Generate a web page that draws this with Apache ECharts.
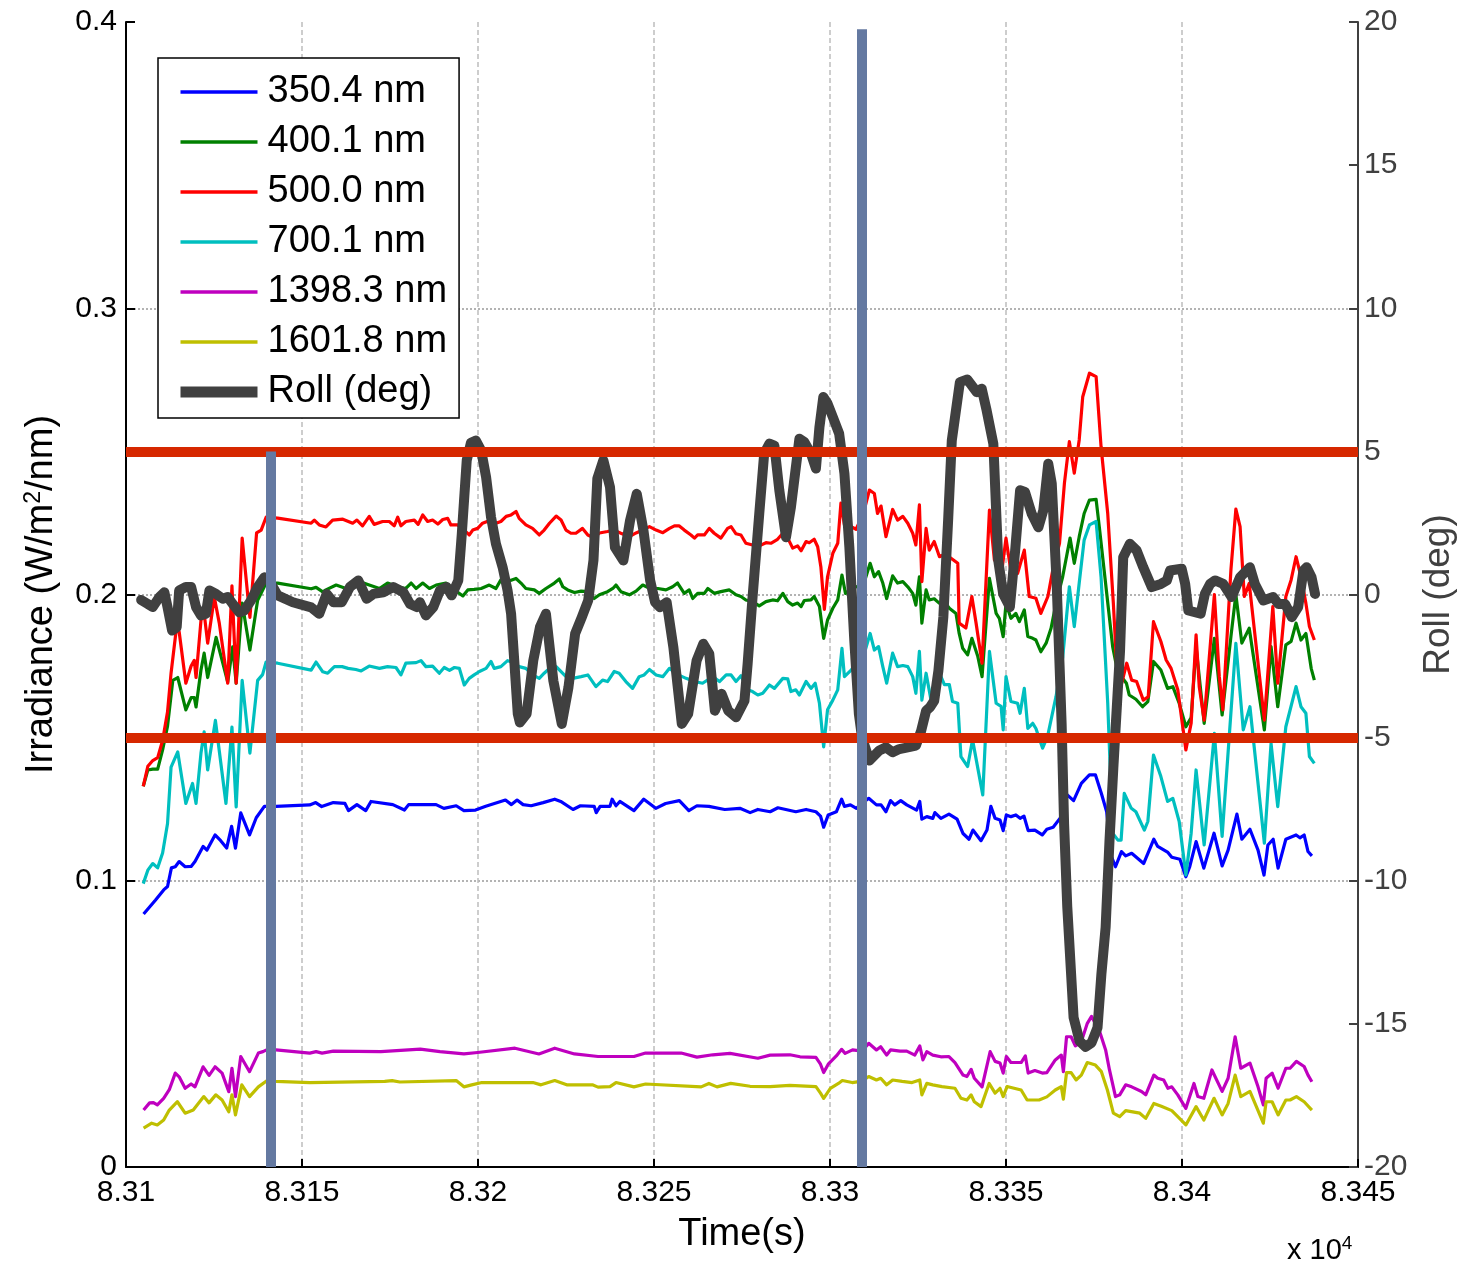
<!DOCTYPE html>
<html>
<head>
<meta charset="utf-8">
<script src="https://cdn.jsdelivr.net/npm/echarts@6/dist/echarts.min.js"></script>
<style>
  html, body { margin: 0; padding: 0; background: #fff; }
  #chart { width: 1468px; height: 1263px; }
</style>
</head>
<body>
<div id="chart"></div>
<script>
// legend / series names
const seriesNames = ['350.4 nm', '400.1 nm', '500.0 nm', '700.1 nm', '1398.3 nm', '1601.8 nm', 'Roll (deg)'];

// [time (s), irradiance W/m2/nm]
const irr350 = [[83105.0,0.0884],[83108.4,0.0933],[83110.7,0.0968],[83111.8,0.098],[83112.9,0.1045],[83114.0,0.1049],[83115.1,0.1067],[83116.8,0.1049],[83118.5,0.105],[83119.6,0.1067],[83121.9,0.112],[83123.0,0.1107],[83125.3,0.116],[83126.9,0.114],[83128.6,0.1114],[83130.0,0.119],[83131.1,0.1114],[83132.6,0.1237],[83135.1,0.116],[83137.0,0.122],[83139.3,0.126],[83142.6,0.126],[83152.2,0.1265],[83153.9,0.1273],[83155.6,0.1259],[83158.9,0.1273],[83162.2,0.127],[83163.2,0.1245],[83165.6,0.1266],[83168.1,0.1245],[83169.6,0.1277],[83175.8,0.1266],[83179.1,0.1247],[83180.3,0.1266],[83188.1,0.1266],[83190.3,0.1253],[83193.8,0.1262],[83196.0,0.1245],[83199.3,0.1247],[83202.2,0.126],[83207.8,0.1282],[83209.5,0.1266],[83211.1,0.1282],[83212.8,0.1266],[83215.1,0.1262],[83218.5,0.1273],[83221.8,0.1285],[83223.5,0.1277],[83227.0,0.1249],[83229.1,0.1262],[83233.0,0.126],[83233.6,0.1238],[83234.7,0.126],[83237.5,0.126],[83238.1,0.1285],[83239.2,0.1262],[83240.3,0.1277],[83244.3,0.1245],[83247.1,0.1285],[83250.5,0.1253],[83253.3,0.127],[83257.2,0.128],[83259.9,0.1245],[83262.2,0.1262],[83265.6,0.126],[83270.1,0.1249],[83274.4,0.1253],[83277.3,0.1238],[83279.5,0.1249],[83283.0,0.1241],[83285.2,0.1255],[83290.3,0.1241],[83293.2,0.1249],[83296.0,0.1241],[83297.3,0.1226],[83298.2,0.1187],[83299.5,0.123],[83301.8,0.1241],[83303.3,0.1285],[83304.1,0.126],[83305.8,0.1265],[83307.5,0.1253],[83309.1,0.127],[83311.0,0.1288],[83313.2,0.1265],[83314.5,0.1265],[83315.9,0.1241],[83317.2,0.128],[83318.4,0.1265],[83320.1,0.128],[83321.8,0.1265],[83324.6,0.1247],[83325.5,0.1277],[83326.1,0.1215],[83327.5,0.1224],[83329.2,0.1218],[83329.8,0.1238],[83331.5,0.1218],[83333.8,0.1233],[83336.1,0.1215],[83337.8,0.1165],[83339.5,0.1145],[83340.6,0.1177],[83342.9,0.114],[83344.6,0.1177],[83345.7,0.126],[83346.9,0.1218],[83348.3,0.1212],[83349.2,0.1175],[83350.1,0.123],[83351.4,0.1224],[83352.8,0.123],[83354.0,0.1218],[83355.1,0.1226],[83356.3,0.1175],[83358.2,0.1177],[83360.3,0.116],[83361.6,0.118],[83363.4,0.1187],[83365.7,0.1224],[83367.4,0.13],[83369.2,0.128],[83371.4,0.134],[83373.7,0.137],[83375.4,0.137],[83377.1,0.1305],[83378.6,0.1241],[83380.0,0.1084],[83381.1,0.1049],[83382.8,0.1102],[83384.0,0.1087],[83385.7,0.1096],[83389.1,0.106],[83392.0,0.1145],[83393.1,0.112],[83396.0,0.1099],[83397.1,0.1082],[83399.4,0.1075],[83401.1,0.1014],[83402.2,0.1049],[83404.0,0.1137],[83406.2,0.1044],[83409.1,0.1166],[83411.4,0.1052],[83413.1,0.1107],[83415.6,0.1233],[83417.0,0.1145],[83419.3,0.118],[83421.6,0.1107],[83423.3,0.102],[83424.4,0.1125],[83425.9,0.1145],[83427.3,0.1044],[83429.5,0.1145],[83432.4,0.116],[83433.5,0.115],[83434.7,0.116],[83435.8,0.1102],[83436.9,0.1087]];

const irr400 = [[83104.9,0.133],[83106.2,0.1387],[83107.6,0.139],[83109.0,0.139],[83110.4,0.1457],[83111.8,0.154],[83113.3,0.170],[83114.7,0.171],[83117.0,0.1597],[83118.5,0.164],[83119.4,0.164],[83119.9,0.1607],[83121.3,0.1736],[83122.2,0.1795],[83123.2,0.171],[83125.6,0.185],[83128.9,0.1694],[83130.3,0.1817],[83131.3,0.169],[83133.0,0.197],[83135.2,0.1806],[83137.4,0.198],[83139.8,0.204],[83143.1,0.204],[83152.6,0.202],[83154.0,0.2025],[83155.9,0.2009],[83156.8,0.2016],[83159.7,0.2033],[83162.5,0.2021],[83166.3,0.2045],[83169.1,0.2033],[83172.0,0.2021],[83174.3,0.204],[83177.2,0.2027],[83179.5,0.2021],[83181.0,0.204],[83182.4,0.2021],[83184.3,0.204],[83186.2,0.2021],[83188.1,0.2033],[83190.9,0.204],[83192.8,0.2021],[83195.7,0.1995],[83197.1,0.2016],[83198.9,0.2018],[83200.9,0.2021],[83203.2,0.2033],[83205.1,0.2021],[83206.5,0.2051],[83208.4,0.2045],[83210.8,0.2056],[83212.2,0.204],[83213.6,0.2021],[83216.0,0.2016],[83217.4,0.2004],[83219.3,0.2021],[83221.7,0.204],[83223.1,0.2054],[83224.1,0.2027],[83225.5,0.2016],[83227.4,0.2007],[83229.3,0.2012],[83231.2,0.201],[83233.0,0.1986],[83234.5,0.1999],[83236.8,0.201],[83238.3,0.2021],[83239.2,0.2033],[83240.6,0.201],[83243.0,0.1999],[83244.9,0.2012],[83246.8,0.2033],[83248.9,0.2021],[83251.1,0.2021],[83253.4,0.2016],[83255.3,0.2027],[83256.7,0.204],[83258.6,0.2004],[83260.0,0.2016],[83261.0,0.1986],[83262.4,0.2004],[83264.3,0.2004],[83265.3,0.2021],[83267.1,0.2004],[83269.0,0.201],[83271.4,0.2016],[83273.3,0.1999],[83274.7,0.1993],[83276.1,0.1981],[83278.0,0.1975],[83279.9,0.196],[83281.8,0.1975],[83283.7,0.1981],[83285.1,0.1978],[83286.6,0.2004],[83288.0,0.1975],[83289.4,0.1963],[83290.8,0.197],[83291.8,0.1958],[83292.7,0.1979],[83294.6,0.1981],[83295.5,0.1993],[83297.0,0.1958],[83298.2,0.1847],[83299.3,0.1911],[83300.8,0.1952],[83302.2,0.1981],[83303.4,0.2068],[83304.4,0.2004],[83306.0,0.2018],[83307.4,0.2027],[83309.4,0.203],[83311.4,0.2109],[83312.6,0.2062],[83313.8,0.208],[83315.0,0.204],[83316.1,0.1986],[83317.8,0.2065],[83319.2,0.204],[83320.7,0.2045],[83322.1,0.2027],[83323.5,0.2004],[83324.4,0.1963],[83325.4,0.2062],[83326.1,0.19],[83327.3,0.2016],[83328.2,0.1981],[83329.6,0.1985],[83331.1,0.1969],[83332.5,0.1975],[83333.9,0.1952],[83335.8,0.1934],[83336.7,0.1864],[83337.7,0.1812],[83339.1,0.1789],[83340.3,0.1847],[83342.0,0.1783],[83343.2,0.1713],[83345.3,0.2056],[83347.2,0.1934],[83348.1,0.1917],[83349.2,0.1853],[83350.0,0.1969],[83351.4,0.1917],[83352.8,0.1934],[83353.8,0.1905],[83355.2,0.1946],[83356.2,0.1853],[83357.6,0.1847],[83358.5,0.1841],[83359.9,0.18],[83361.4,0.183],[83362.8,0.1882],[83364.2,0.1969],[83366.1,0.2062],[83368.2,0.2197],[83369.4,0.2109],[83370.8,0.2202],[83372.2,0.2283],[83373.7,0.233],[83375.6,0.2332],[83376.5,0.2237],[83378.4,0.2027],[83380.3,0.1818],[83381.7,0.1731],[83384.2,0.169],[83385.0,0.1649],[83386.9,0.1634],[83388.8,0.1608],[83390.3,0.1626],[83391.9,0.1766],[83394.0,0.1736],[83395.9,0.1672],[83397.4,0.1678],[83399.2,0.162],[83401.1,0.1538],[83402.6,0.157],[83404.0,0.1818],[83406.3,0.155],[83409.2,0.1847],[83411.4,0.1579],[83413.9,0.1853],[83415.3,0.2],[83417.0,0.183],[83419.1,0.1882],[83423.4,0.1527],[83425.3,0.1818],[83427.2,0.1608],[83429.5,0.1824],[83431.0,0.1836],[83432.4,0.19],[83433.8,0.1841],[83435.2,0.1864],[83436.7,0.1742],[83437.6,0.1701]];

const irr500 = [[83104.9,0.133],[83106.2,0.140],[83107.6,0.142],[83109.0,0.143],[83110.4,0.149],[83111.8,0.159],[83112.8,0.1725],[83114.2,0.187],[83115.1,0.187],[83117.0,0.169],[83118.5,0.175],[83119.4,0.177],[83119.9,0.171],[83121.3,0.191],[83122.2,0.1935],[83123.2,0.183],[83125.1,0.199],[83126.5,0.190],[83128.9,0.169],[83130.1,0.203],[83131.3,0.169],[83133.0,0.2197],[83135.2,0.192],[83137.1,0.2215],[83138.4,0.2225],[83139.8,0.227],[83143.1,0.2267],[83152.6,0.2249],[83153.5,0.226],[83154.9,0.2243],[83156.8,0.2236],[83158.7,0.226],[83161.6,0.2263],[83164.4,0.2249],[83165.6,0.226],[83167.2,0.224],[83169.1,0.2273],[83170.5,0.2245],[83172.9,0.2255],[83174.8,0.2255],[83176.2,0.224],[83177.2,0.227],[83178.1,0.224],[83179.5,0.2255],[83181.9,0.226],[83183.0,0.2245],[83184.3,0.2278],[83185.7,0.2255],[83187.1,0.226],[83188.6,0.2246],[83190.0,0.2262],[83191.4,0.2266],[83192.3,0.2243],[83194.2,0.2243],[83196.1,0.2225],[83197.5,0.2208],[83198.5,0.2225],[83199.9,0.2231],[83201.3,0.2249],[83203.7,0.226],[83205.1,0.2249],[83206.5,0.2255],[83208.0,0.2273],[83209.4,0.2278],[83210.8,0.229],[83211.7,0.2266],[83213.6,0.2243],[83215.5,0.2231],[83217.4,0.2208],[83218.8,0.2225],[83220.3,0.2249],[83222.2,0.2274],[83223.6,0.226],[83225.0,0.2225],[83226.4,0.2214],[83227.8,0.2214],[83229.7,0.2231],[83231.2,0.2208],[83233.0,0.2197],[83234.5,0.2215],[83236.8,0.222],[83238.6,0.2225],[83240.6,0.2214],[83243.0,0.2202],[83244.9,0.2215],[83246.8,0.2225],[83248.7,0.2237],[83250.6,0.2225],[83252.5,0.2216],[83254.4,0.2231],[83255.8,0.224],[83257.1,0.224],[83258.6,0.2225],[83260.5,0.2208],[83261.5,0.2197],[83262.4,0.2208],[83264.3,0.2208],[83265.7,0.2231],[83267.1,0.2214],[83269.0,0.2197],[83270.9,0.2231],[83271.9,0.2237],[83273.3,0.2212],[83274.7,0.2208],[83276.1,0.2179],[83278.0,0.2173],[83279.9,0.217],[83281.8,0.2181],[83283.2,0.2179],[83285.1,0.2193],[83286.6,0.2214],[83288.0,0.2197],[83289.4,0.2162],[83290.8,0.217],[83291.8,0.2153],[83293.2,0.2185],[83294.1,0.2181],[83295.5,0.2193],[83296.5,0.2167],[83297.4,0.2097],[83298.4,0.1948],[83299.3,0.2062],[83300.8,0.2144],[83302.2,0.2179],[83303.1,0.2319],[83304.1,0.2243],[83306.0,0.2237],[83307.4,0.2228],[83309.4,0.228],[83311.2,0.2365],[83312.6,0.2353],[83313.5,0.2283],[83314.5,0.2309],[83315.9,0.2202],[83317.8,0.2297],[83319.2,0.226],[83320.7,0.2273],[83322.1,0.2249],[83323.5,0.2214],[83324.4,0.2173],[83325.4,0.2313],[83326.1,0.2045],[83327.3,0.2231],[83328.2,0.2155],[83329.6,0.2185],[83331.1,0.2132],[83332.5,0.214],[83333.8,0.2132],[83336.3,0.2109],[83336.7,0.19],[83338.6,0.1883],[83340.3,0.1993],[83341.5,0.19],[83343.2,0.176],[83345.3,0.2295],[83346.7,0.2121],[83347.6,0.2109],[83348.6,0.2062],[83350.0,0.2197],[83351.4,0.208],[83353.3,0.2074],[83355.2,0.2155],[83356.6,0.1993],[83358.5,0.1987],[83359.9,0.1934],[83361.9,0.1993],[83363.3,0.2086],[83365.2,0.2179],[83366.6,0.2389],[83368.0,0.2534],[83369.4,0.2424],[83370.8,0.254],[83371.8,0.2691],[83373.7,0.2773],[83375.6,0.2761],[83377.0,0.2517],[83378.9,0.2283],[83380.5,0.1969],[83381.9,0.1643],[83384.3,0.176],[83385.7,0.1701],[83387.1,0.1696],[83389.0,0.1631],[83390.4,0.1643],[83391.9,0.1905],[83394.0,0.1836],[83395.5,0.1771],[83396.9,0.1742],[83398.8,0.1667],[83401.1,0.1457],[83402.6,0.155],[83404.0,0.1859],[83404.9,0.1678],[83406.3,0.1561],[83409.2,0.2],[83410.6,0.1713],[83411.6,0.1597],[83413.9,0.2086],[83415.3,0.2298],[83416.5,0.2237],[83417.7,0.1993],[83419.1,0.2039],[83423.4,0.1561],[83425.8,0.1958],[83427.2,0.169],[83429.5,0.1993],[83431.0,0.2051],[83432.4,0.2132],[83433.8,0.2062],[83435.2,0.1969],[83436.2,0.1888],[83437.6,0.1841]];

const irr700 = [[83104.9,0.099],[83106.2,0.1037],[83107.6,0.106],[83109.0,0.1045],[83110.4,0.1097],[83111.8,0.120],[83112.8,0.1397],[83114.7,0.145],[83117.0,0.127],[83118.9,0.134],[83119.9,0.127],[83121.3,0.1446],[83122.2,0.152],[83123.2,0.1387],[83125.4,0.156],[83128.4,0.127],[83130.1,0.1537],[83131.3,0.1258],[83133.0,0.170],[83135.2,0.1446],[83137.4,0.170],[83138.8,0.172],[83139.8,0.1764],[83143.1,0.176],[83152.6,0.1736],[83154.0,0.1764],[83155.9,0.173],[83157.3,0.1725],[83159.2,0.1748],[83161.4,0.1748],[83163.1,0.1742],[83165.3,0.1738],[83166.8,0.1733],[83169.1,0.175],[83172.0,0.1742],[83174.3,0.1748],[83176.7,0.1745],[83178.1,0.1719],[83179.5,0.176],[83182.4,0.1762],[83183.8,0.1769],[83185.2,0.1748],[83187.1,0.175],[83189.0,0.1725],[83190.4,0.1745],[83191.9,0.1735],[83193.3,0.1745],[83194.7,0.1742],[83196.1,0.1684],[83197.5,0.1707],[83198.9,0.1719],[83200.4,0.1731],[83202.3,0.1742],[83203.7,0.1766],[83204.6,0.1742],[83206.5,0.1748],[83208.4,0.1769],[83209.9,0.1762],[83211.7,0.1748],[83213.6,0.1742],[83215.5,0.1719],[83217.4,0.1707],[83218.8,0.1725],[83220.3,0.1742],[83222.2,0.1748],[83225.0,0.1713],[83226.9,0.1707],[83229.3,0.1713],[83231.2,0.1719],[83233.5,0.1678],[83235.4,0.1701],[83236.8,0.1696],[83238.7,0.1731],[83240.1,0.1725],[83242.0,0.1696],[83243.9,0.1672],[83245.8,0.1713],[83247.2,0.1719],[83248.7,0.1738],[83250.6,0.1719],[83252.5,0.1713],[83254.4,0.1742],[83256.8,0.172],[83259.1,0.1707],[83261.5,0.1696],[83263.8,0.169],[83266.7,0.1713],[83268.6,0.1696],[83270.5,0.1719],[83271.9,0.1719],[83273.3,0.1696],[83274.7,0.1716],[83276.6,0.1667],[83278.0,0.1661],[83279.5,0.1649],[83280.9,0.1655],[83282.8,0.1684],[83284.2,0.1672],[83286.6,0.1707],[83288.0,0.1705],[83288.9,0.1661],[83290.3,0.1667],[83291.3,0.1649],[83293.2,0.1696],[83294.6,0.1672],[83295.8,0.169],[83297.0,0.162],[83298.2,0.1468],[83299.3,0.1597],[83300.8,0.1631],[83302.2,0.1667],[83303.4,0.1812],[83304.1,0.1713],[83306.0,0.1736],[83307.4,0.176],[83309.4,0.178],[83311.4,0.1864],[83312.6,0.1806],[83313.8,0.1818],[83315.0,0.1748],[83316.1,0.169],[83317.8,0.1795],[83319.2,0.1748],[83320.7,0.1752],[83322.1,0.1748],[83323.5,0.1713],[83324.4,0.1655],[83325.4,0.1801],[83326.1,0.1631],[83327.3,0.1725],[83328.7,0.1631],[83331.1,0.1725],[83332.5,0.1685],[83333.9,0.1685],[83334.8,0.1626],[83336.3,0.162],[83337.2,0.1434],[83339.1,0.1399],[83340.5,0.1492],[83343.4,0.13],[83345.3,0.1801],[83347.2,0.162],[83348.6,0.1609],[83349.2,0.1527],[83350.0,0.1713],[83351.4,0.1626],[83353.3,0.162],[83354.0,0.1585],[83355.2,0.1672],[83356.2,0.1532],[83357.6,0.155],[83358.5,0.1532],[83360.4,0.1463],[83361.8,0.1504],[83364.2,0.1643],[83366.1,0.178],[83368.0,0.2027],[83369.4,0.1888],[83370.8,0.204],[83372.2,0.219],[83373.7,0.2243],[83375.6,0.2255],[83377.0,0.2062],[83378.9,0.162],[83380.3,0.1166],[83381.8,0.1142],[83382.7,0.1142],[83383.6,0.1305],[83385.6,0.1253],[83386.9,0.1241],[83389.3,0.1177],[83390.3,0.1207],[83391.9,0.1439],[83394.0,0.1364],[83395.9,0.1277],[83397.4,0.1288],[83399.2,0.1207],[83401.1,0.102],[83402.6,0.1166],[83404.0,0.1387],[83405.7,0.119],[83406.3,0.1125],[83409.2,0.1515],[83411.4,0.1155],[83415.3,0.1829],[83417.4,0.1527],[83419.3,0.1608],[83423.4,0.1131],[83425.3,0.148],[83427.2,0.1259],[83429.5,0.1538],[83432.4,0.1678],[83433.8,0.1608],[83435.2,0.1585],[83436.2,0.1434],[83437.6,0.141]];

const irr1398 = [[83105.0,0.0199],[83106.7,0.0224],[83107.8,0.0225],[83108.9,0.0217],[83110.7,0.024],[83112.3,0.027],[83114.0,0.0328],[83115.1,0.0315],[83116.8,0.0275],[83118.5,0.029],[83119.6,0.028],[83121.9,0.035],[83123.6,0.032],[83125.3,0.035],[83127.3,0.0328],[83129.2,0.0263],[83130.1,0.0345],[83131.1,0.0246],[83132.6,0.0386],[83135.1,0.0333],[83137.6,0.0398],[83138.9,0.0403],[83140.4,0.0412],[83142.6,0.0409],[83152.2,0.0398],[83154.0,0.0403],[83155.7,0.0398],[83158.9,0.0405],[83172.4,0.0403],[83183.6,0.0412],[83189.2,0.0403],[83196.0,0.0395],[83199.9,0.04],[83210.5,0.0415],[83217.3,0.0395],[83221.8,0.0415],[83227.4,0.0395],[83234.1,0.0386],[83244.3,0.0386],[83247.6,0.0398],[83257.7,0.0398],[83262.2,0.0384],[83266.7,0.0392],[83271.6,0.0397],[83279.5,0.038],[83283.0,0.0391],[83288.6,0.0392],[83291.5,0.0385],[83296.0,0.0383],[83297.3,0.0359],[83298.2,0.033],[83299.5,0.0359],[83301.8,0.0388],[83303.3,0.0411],[83304.3,0.0397],[83306.4,0.0409],[83309.1,0.0405],[83311.0,0.0432],[83313.2,0.0409],[83314.4,0.042],[83316.1,0.0391],[83317.2,0.0409],[83319.9,0.0405],[83321.8,0.0405],[83324.1,0.0391],[83325.5,0.0423],[83326.4,0.0374],[83327.5,0.0403],[83329.2,0.0391],[83331.5,0.0385],[83333.8,0.0386],[83335.5,0.0365],[83337.8,0.0321],[83338.9,0.0316],[83340.1,0.0341],[83341.0,0.031],[83343.2,0.028],[83345.5,0.0403],[83346.9,0.0369],[83348.3,0.0363],[83349.2,0.0328],[83350.1,0.0386],[83351.4,0.0365],[83354.3,0.0365],[83355.5,0.0388],[83356.3,0.0328],[83358.2,0.0337],[83360.3,0.0328],[83361.6,0.033],[83364.0,0.0374],[83365.7,0.0391],[83366.3,0.0333],[83367.2,0.0455],[83368.5,0.0455],[83369.7,0.0423],[83371.4,0.0438],[83373.1,0.0502],[83374.3,0.0526],[83376.6,0.0473],[83378.3,0.0409],[83379.4,0.0339],[83381.1,0.0246],[83382.3,0.0252],[83384.0,0.0287],[83385.7,0.028],[83388.5,0.0264],[83389.7,0.0252],[83392.0,0.0321],[83393.1,0.031],[83394.8,0.0304],[83396.0,0.0275],[83397.1,0.028],[83398.8,0.0252],[83401.1,0.0205],[83403.4,0.0292],[83404.5,0.0246],[83406.2,0.024],[83408.5,0.0339],[83411.4,0.0264],[83413.1,0.031],[83415.1,0.0455],[83416.7,0.0345],[83419.3,0.0363],[83421.6,0.028],[83423.1,0.0217],[83423.9,0.031],[83425.6,0.0328],[83427.3,0.0275],[83429.5,0.0345],[83430.7,0.0345],[83432.5,0.0369],[83434.7,0.0351],[83435.8,0.0321],[83436.9,0.0298]];

const irr1602 = [[83105.0,0.0136],[83107.3,0.0153],[83108.9,0.0147],[83110.7,0.0164],[83112.3,0.0199],[83114.6,0.0228],[83116.8,0.0188],[83119.1,0.0199],[83122.1,0.0246],[83123.6,0.0224],[83125.5,0.0252],[83127.3,0.0234],[83129.2,0.0193],[83130.1,0.0252],[83131.1,0.0182],[83132.9,0.0287],[83135.1,0.0246],[83137.6,0.028],[83140.1,0.0302],[83142.6,0.0299],[83152.2,0.0295],[83173.5,0.0299],[83175.6,0.0302],[83177.8,0.0297],[83193.8,0.0302],[83196.0,0.028],[83198.2,0.0287],[83201.1,0.0295],[83215.6,0.0295],[83217.9,0.0287],[83221.8,0.0302],[83225.2,0.0287],[83232.5,0.0287],[83234.1,0.0279],[83237.5,0.0281],[83239.2,0.0295],[83244.3,0.028],[83247.6,0.029],[83263.4,0.028],[83265.6,0.0292],[83267.9,0.028],[83271.8,0.0292],[83277.3,0.0282],[83283.0,0.0281],[83288.6,0.0285],[83296.0,0.0281],[83297.3,0.0258],[83298.2,0.024],[83300.1,0.0275],[83302.4,0.0292],[83303.5,0.0302],[83306.3,0.0295],[83309.1,0.03],[83311.0,0.0316],[83313.2,0.0304],[83314.4,0.031],[83316.1,0.0287],[83317.8,0.0304],[83320.5,0.0299],[83323.3,0.0295],[83325.5,0.0304],[83326.1,0.0252],[83327.5,0.0292],[83329.2,0.0287],[83331.8,0.0281],[83335.5,0.0275],[83337.2,0.024],[83338.9,0.0234],[83340.1,0.0252],[83341.0,0.0228],[83342.9,0.0211],[83345.2,0.0292],[83346.9,0.0258],[83348.3,0.0275],[83349.2,0.0246],[83350.3,0.0281],[83354.3,0.0269],[83356.0,0.0234],[83359.4,0.0234],[83361.6,0.0245],[83364.0,0.0269],[83365.7,0.0281],[83366.3,0.0237],[83367.2,0.033],[83368.5,0.033],[83369.9,0.0304],[83371.4,0.0321],[83373.1,0.0365],[83375.4,0.0356],[83377.1,0.0333],[83378.8,0.0269],[83380.5,0.0188],[83382.3,0.0176],[83384.0,0.0197],[83388.0,0.0188],[83389.7,0.017],[83392.0,0.0222],[83394.3,0.0211],[83397.1,0.0197],[83398.8,0.0176],[83401.1,0.0147],[83404.0,0.0211],[83406.2,0.0164],[83409.1,0.024],[83411.4,0.0182],[83413.1,0.0222],[83415.1,0.0321],[83416.7,0.0246],[83419.3,0.0264],[83423.1,0.0153],[83423.9,0.0228],[83425.6,0.0228],[83427.3,0.0182],[83429.5,0.0234],[83430.7,0.0234],[83432.5,0.0246],[83434.7,0.0228],[83436.9,0.0199]];

// [time (s), roll (deg)]
const rollDeg = [[83104.3,-0.19],[83106.2,-0.33],[83107.6,-0.44],[83109.5,-0.09],[83110.9,0.08],[83111.8,-0.44],[83113.1,-1.26],[83114.4,-1.14],[83115.1,0.14],[83117.0,0.26],[83118.5,0.26],[83119.9,-0.44],[83121.3,-0.73],[83122.7,-0.67],[83123.7,0.14],[83125.6,0.02],[83127.5,-0.15],[83128.9,-0.09],[83130.3,-0.33],[83132.2,-0.62],[83133.6,-0.56],[83135.5,-0.21],[83137.4,0.26],[83139.3,0.6],[83140.7,0.49],[83143.1,-0.03],[83147.4,-0.27],[83152.6,-0.45],[83154.9,-0.67],[83157.0,0.02],[83158.9,-0.27],[83161.3,-0.27],[83163.6,0.26],[83166.0,0.49],[83168.4,-0.15],[83170.3,0.02],[83173.1,0.08],[83175.9,0.26],[83178.8,0.08],[83180.7,-0.33],[83182.6,-0.44],[83183.5,-0.27],[83185.2,-0.73],[83187.3,-0.44],[83189.2,0.14],[83191.1,0.26],[83192.5,-0.03],[83194.4,0.49],[83195.4,2.12],[83196.8,4.69],[83198.0,5.3],[83199.4,5.38],[83200.9,5.03],[83202.3,4.1],[83203.7,2.7],[83205.1,1.77],[83207.0,0.95],[83208.4,0.14],[83209.4,-0.67],[83210.3,-2.31],[83211.3,-4.17],[83211.9,-4.47],[83213.8,-4.17],[83215.7,-2.31],[83217.6,-1.14],[83219.3,-0.67],[83221.4,-3.01],[83223.8,-4.52],[83225.7,-3.24],[83227.6,-1.37],[83229.5,-0.79],[83231.3,-0.21],[83232.8,1.19],[83233.9,4.05],[83235.6,4.69],[83237.5,3.75],[83238.9,1.65],[83241.3,1.19],[83243.2,2.59],[83245.1,3.52],[83247.0,2.24],[83248.9,0.49],[83250.3,-0.27],[83251.7,-0.44],[83253.6,-0.27],[83255.5,-1.84],[83257.9,-4.52],[83259.7,-4.17],[83262.1,-2.31],[83264.0,-1.72],[83265.7,-2.07],[83267.3,-4.06],[83269.2,-3.47],[83271.1,-4.06],[83273.3,-4.29],[83275.7,-3.71],[83276.6,-2.42],[83278.0,-0.09],[83279.9,2.82],[83281.3,4.92],[83282.8,5.27],[83284.2,5.2],[83285.6,3.64],[83287.5,2.0],[83288.9,3.05],[83291.3,5.44],[83292.7,5.33],[83294.6,4.92],[83296.0,4.4],[83297.0,5.85],[83298.1,6.9],[83299.3,6.67],[83300.8,6.2],[83302.6,5.62],[83304.1,4.22],[83305.5,1.65],[83306.9,-1.61],[83308.2,-4.17],[83309.1,-5.0],[83311.2,-5.8],[83314.0,-5.45],[83315.9,-5.34],[83317.8,-5.51],[83319.7,-5.4],[83322.1,-5.34],[83324.4,-5.28],[83325.9,-4.76],[83327.3,-4.06],[83328.4,-3.94],[83329.6,-3.71],[83330.8,-2.66],[83332.2,-0.79],[83333.6,2.7],[83334.6,5.38],[83336.9,7.42],[83339.0,7.51],[83341.7,7.07],[83343.1,7.19],[83344.5,6.43],[83346.4,5.27],[83347.8,1.19],[83349.2,0.02],[83351.1,-0.44],[83352.6,1.54],[83354.0,3.64],[83355.4,3.58],[83357.3,2.82],[83359.2,2.35],[83360.6,2.94],[83362.0,4.57],[83363.0,3.87],[83364.4,0.37],[83365.8,-4.5],[83366.5,-8.0],[83367.4,-10.9],[83369.2,-14.78],[83370.9,-15.6],[83372.6,-15.8],[83374.3,-15.66],[83376.0,-15.13],[83377.1,-13.26],[83378.3,-11.63],[83379.4,-8.6],[83380.5,-6.04],[83382.4,-1.96],[83383.3,1.3],[83385.2,1.77],[83387.1,1.54],[83389.0,0.95],[83391.4,0.26],[83394.0,0.37],[83395.7,0.49],[83396.6,0.84],[83399.9,0.9],[83400.9,0.37],[83401.8,-0.56],[83403.7,-0.62],[83405.3,-0.67],[83406.5,0.02],[83408.0,0.37],[83409.4,0.49],[83411.7,0.37],[83414.1,-0.09],[83416.5,0.6],[83419.3,0.95],[83420.7,0.37],[83423.1,-0.21],[83425.9,-0.09],[83427.4,-0.33],[83429.3,-0.33],[83431.2,-0.79],[83433.0,-0.44],[83434.5,0.84],[83435.4,0.95],[83436.8,0.6],[83437.8,0.02]];

// roll limits (deg) drawn as horizontal bands
const rollLimits = [5, -5];
// vertical markers: [time, top of marker in roll degrees]
const cutMarks = [[83141, 5], [83309, 19.75]];

const xTicks = { min: 83100, max: 83450, step: 50 };

const irrColors = ['#0000ff', '#008000', '#ff0000', '#00bfbf', '#bf00bf', '#bfbf00'];
const irrData = [irr350, irr400, irr500, irr700, irr1398, irr1602];
const rollColor = '#404040';

const fontFam = '"Liberation Sans", Arial, sans-serif';

const chart = echarts.init(document.getElementById('chart'), null, { renderer: 'canvas' });

const series = irrData.map((d, i) => ({
  name: seriesNames[i],
  type: 'line',
  yAxisIndex: 0,
  data: d,
  showSymbol: false,
  symbol: 'none',
  silent: true,
  color: irrColors[i],
  lineStyle: { width: 3.2, color: irrColors[i], join: 'round' },
  z: 2
}));

series.push({
  name: seriesNames[6],
  type: 'line',
  yAxisIndex: 1,
  data: rollDeg,
  showSymbol: false,
  symbol: 'none',
  silent: true,
  color: rollColor,
  lineStyle: { width: 10, color: rollColor, cap: 'round', join: 'round' },
  z: 3
});

// red roll limit lines
series.push({
  name: 'limits',
  type: 'line',
  yAxisIndex: 1,
  data: [],
  silent: true,
  z: 4,
  markLine: {
    silent: true,
    symbol: ['none', 'none'],
    label: { show: false },
    lineStyle: { color: '#d62800', width: 10, type: 'solid' },
    data: rollLimits.map(v => ({ yAxis: v }))
  }
});

// blue vertical markers
series.push({
  name: 'cuts',
  type: 'line',
  yAxisIndex: 1,
  data: [],
  silent: true,
  z: 5,
  markLine: {
    silent: true,
    symbol: ['none', 'none'],
    label: { show: false },
    lineStyle: { color: '#6479a1', width: 10, type: 'solid', cap: 'butt' },
    data: cutMarks.map(c => [{ coord: [c[0], -20] }, { coord: [c[0], c[1]] }])
  }
});

// legend items: plain line icons, roll thicker
const legendItems = seriesNames.map((n, i) => {
  const c = i < 6 ? irrColors[i] : rollColor;
  const w = i < 6 ? 3.5 : 11;
  return { name: n, icon: 'line', itemStyle: { color: c, borderColor: c, borderWidth: w } };
});

const option = {
  backgroundColor: '#ffffff',
  animation: false,
  textStyle: { fontFamily: fontFam },
  grid: { left: 126, right: 110, top: 22, bottom: 96, containLabel: false },
  legend: {
    data: legendItems,
    orient: 'vertical',
    left: 158,
    top: 58,
    padding: [14, 12, 6, 17],
    itemGap: 10,
    itemWidth: 77,
    itemHeight: 14,
    backgroundColor: '#ffffff',
    borderColor: '#000000',
    borderWidth: 1.5,
    borderRadius: 0,
    selectedMode: false,
    textStyle: { fontSize: 38, color: '#000', fontFamily: fontFam, lineHeight: 40, padding: [0, 0, 0, 5] },
    z: 10
  },
  xAxis: {
    type: 'value',
    min: xTicks.min,
    max: xTicks.max,
    interval: xTicks.step,
    name: 'Time(s)',
    nameLocation: 'middle',
    nameGap: 49,
    nameTextStyle: { fontSize: 38, color: '#000', fontFamily: fontFam },
    axisLine: { show: true, onZero: false, lineStyle: { color: '#000', width: 2 } },
    axisTick: { show: true, inside: true, length: 8, lineStyle: { color: '#000', width: 2 } },
    axisLabel: {
      fontSize: 30, color: '#000', margin: 11, fontFamily: fontFam,
      formatter: v => String(parseFloat((v / 1e4).toFixed(4)))
    },
    splitLine: { show: true, lineStyle: { color: '#bdbdbd', width: 1.5, type: [5, 3] } }
  },
  yAxis: [
    {
      type: 'value',
      min: 0,
      max: 0.4,
      interval: 0.1,
      position: 'left',
      name: 'Irradiance (W/m{sup|2}/nm)',
      nameLocation: 'middle',
      nameRotate: 90,
      nameGap: 64,
      nameTextStyle: {
        fontSize: 38, color: '#000', fontFamily: fontFam,
        rich: { sup: { fontSize: 23, padding: [0, 0, 17, 0], fontFamily: fontFam, color: '#000' } }
      },
      axisLine: { show: true, lineStyle: { color: '#000', width: 2 } },
      axisTick: { show: true, inside: true, length: 9, lineStyle: { color: '#000', width: 2 } },
      axisLabel: { fontSize: 30, color: '#000', margin: 9, fontFamily: fontFam },
      splitLine: { show: true, showMinLine: false, showMaxLine: false, lineStyle: { color: '#9a9a9a', width: 1.5, type: [2, 2] } }
    },
    {
      type: 'value',
      min: -20,
      max: 20,
      interval: 5,
      position: 'right',
      name: 'Roll (deg)',
      nameLocation: 'middle',
      nameRotate: 90,
      nameGap: 62,
      nameTextStyle: { fontSize: 37, color: '#404040', fontFamily: fontFam },
      axisLine: { show: true, lineStyle: { color: '#404040', width: 2 } },
      axisTick: { show: true, inside: true, length: 9, lineStyle: { color: '#404040', width: 2 } },
      axisLabel: { fontSize: 30, color: '#404040', margin: 6, fontFamily: fontFam },
      splitLine: { show: false }
    }
  ],
  graphic: [
    {
      type: 'text',
      left: 1287,
      top: 1234,
      style: {
        text: 'x 10{sup|4}',
        fontSize: 29,
        fontFamily: fontFam,
        fill: '#000',
        rich: { sup: { fontSize: 19, padding: [0, 0, 14, 0], fontFamily: fontFam, fill: '#000' } }
      }
    }
  ],
  series: series
};

chart.setOption(option);
</script>
</body>
</html>
